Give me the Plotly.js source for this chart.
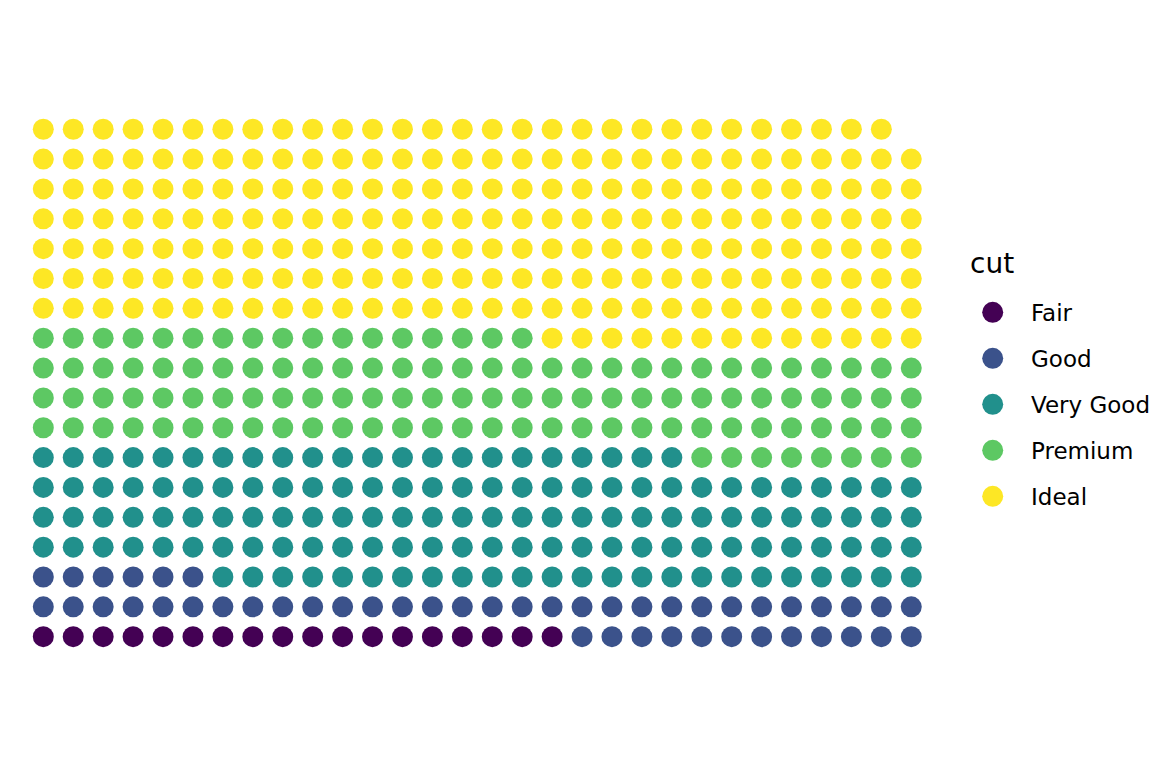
<!DOCTYPE html>
<html>
<head>
<meta charset="utf-8">
<script src="https://cdn.plot.ly/plotly-3.0.1.min.js"></script>
<style>html,body{margin:0;padding:0;background:#fff;}#chart{width:1152px;height:768px;}</style>
</head>
<body>
<div id="chart"></div>
<script>
// Data
const categories = ['Fair', 'Good', 'Very Good', 'Premium', 'Ideal'];
const counts = [18, 48, 136, 115, 222];
const colors = ['#440154', '#3B528B', '#21908C', '#5DC863', '#FDE725'];
const legendTitle = 'cut';
const nCols = 30;

// Layout constants (pixels)
const W = 1152, H = 768;
const x0px = 43.3, dx = 29.93;
const y0px = 636.7, dy = 29.85;
const dotSize = 21;
const legMarkerX = 992.7, legFirstY = 312.3, legStep = 46;
const legTextX = 1029, legTextDy = 1, legTitleX = 968, legTitleY = 263;

const traces = [];
let k = 0;
categories.forEach((cat, ci) => {
  const xs = [], ys = [];
  for (let i = 0; i < counts[ci]; i++, k++) {
    xs.push(k % nCols);
    ys.push(Math.floor(k / nCols));
  }
  traces.push({
    type: 'scatter', mode: 'markers', x: xs, y: ys, name: cat,
    marker: {color: colors[ci], size: dotSize, line: {width: 0}},
    hoverinfo: 'skip', showlegend: false, xaxis: 'x', yaxis: 'y'
  });
});

// Manual legend
const annotations = [{
  text: legendTitle, x: legTitleX / W, y: 1 - legTitleY / H, xref: 'paper', yref: 'paper',
  xanchor: 'left', yanchor: 'middle', showarrow: false,
  font: {family: 'DejaVu Sans', size: 28, color: '#000'}
}];
categories.forEach((cat, ci) => {
  const py = legFirstY + legStep * ci;
  traces.push({
    type: 'scatter', mode: 'markers', x: [legMarkerX], y: [py],
    marker: {color: colors[ci], size: dotSize, line: {width: 0}},
    hoverinfo: 'skip', showlegend: false, xaxis: 'x2', yaxis: 'y2'
  });
  annotations.push({
    text: cat, x: legTextX / W, y: 1 - (py + legTextDy) / H, xref: 'paper', yref: 'paper',
    xanchor: 'left', yanchor: 'middle', showarrow: false,
    font: {family: 'DejaVu Sans', size: 23, color: '#000'}
  });
});

const hidden = {visible: false, showgrid: false, zeroline: false, fixedrange: true};
const layout = {
  width: W, height: H,
  margin: {l: 0, r: 0, t: 0, b: 0, pad: 0},
  paper_bgcolor: '#fff', plot_bgcolor: '#fff',
  showlegend: false, hovermode: false,
  xaxis: Object.assign({}, hidden, {range: [-x0px / dx, (W - x0px) / dx], domain: [0, 1]}),
  yaxis: Object.assign({}, hidden, {range: [-(H - y0px) / dy, y0px / dy], domain: [0, 1]}),
  xaxis2: Object.assign({}, hidden, {range: [0, W], overlaying: 'x', anchor: 'y2'}),
  yaxis2: Object.assign({}, hidden, {range: [H, 0], overlaying: 'y', anchor: 'x2'}),
  annotations: annotations
};

Plotly.newPlot('chart', traces, layout, {staticPlot: true, displayModeBar: false});
</script>
</body>
</html>
